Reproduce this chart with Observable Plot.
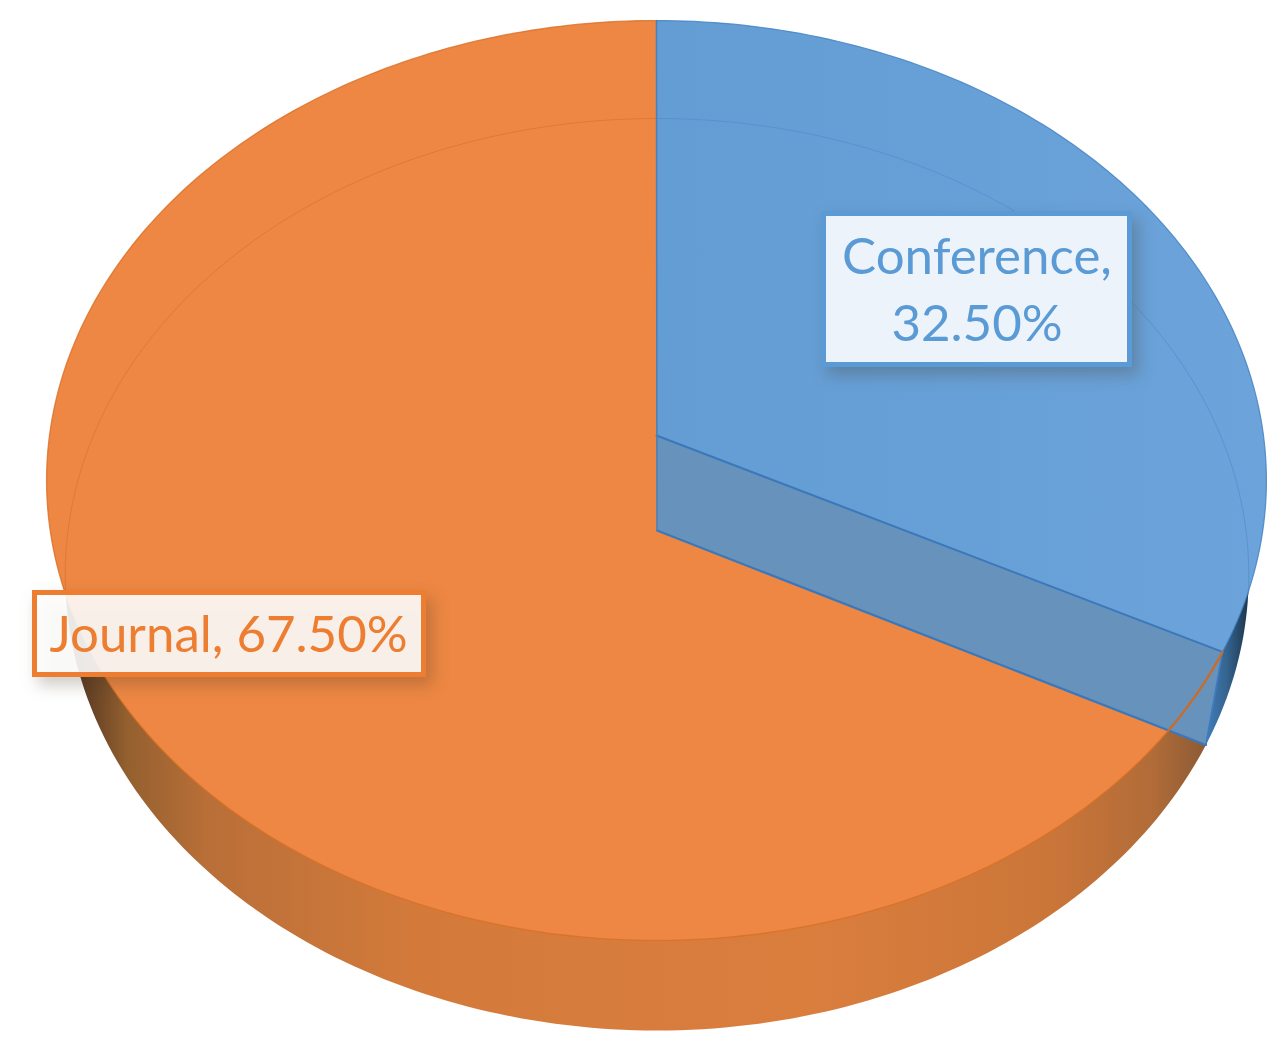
<!DOCTYPE html>
<html>
<head>
<meta charset="utf-8">
<script src="https://cdn.jsdelivr.net/npm/d3@7"></script>
<script src="https://cdn.jsdelivr.net/npm/@observablehq/plot@0.6"></script>
<style>
  html, body { margin: 0; padding: 0; background: #fff; }
  svg { display: block; }
</style>
</head>
<body>
<div id="chart"></div>
<script>
// ---- data ----
const categories = ["Conference", "Journal"];
const shares = [32.5, 67.5];
const labelBreaks = [",\n", ", "];

// ---- layout of the tilted pie (perspective of the top and bottom rims) ----
const topRim = {cx: 656, y0: 435, c: 413, k: 0.0978, r: 607};
const bottomRim = {cx: 656.5, y0: 530, c: 400.6, k: 0.0965, r: 589};
const rad = d => d * Math.PI / 180;
const project = (rim, deg) => {
  const u = Math.sin(rad(deg)), v = Math.cos(rad(deg)), w = 1 + rim.k * v;
  return {x: rim.cx + rim.r * u / w, y: (rim.y0 - rim.c * v) / w};
};
const arc = (rim, from, to) => d3.range(from, to, 1).concat(to).map(d => project(rim, d));
const apex = rim => ({x: rim.cx, y: rim.y0});

const split = shares[0] / 100 * 360;      // boundary between both slices
const topEnd = project(topRim, split);
const bottomEnd = project(bottomRim, split);
const bottomApex = apex(bottomRim);
const topApex = apex(topRim);

// where the front rim of the top face meets the lower edge of the cut wall
const wallSlope = (bottomEnd.y - bottomApex.y) / (bottomEnd.x - bottomApex.x);
const crossing = d3.range(split, split + 30, 0.1).find(d => {
  const p = project(topRim, d);
  return p.y >= bottomApex.y + wallSlope * (p.x - bottomApex.x);
});

const gradient = (id, x1, x2, stops) => () => {
  const ns = "http://www.w3.org/2000/svg";
  const defs = document.createElementNS(ns, "defs");
  const g = document.createElementNS(ns, "linearGradient");
  g.setAttribute("id", id);
  g.setAttribute("gradientUnits", "userSpaceOnUse");
  g.setAttribute("x1", x1); g.setAttribute("x2", x2);
  g.setAttribute("y1", 0); g.setAttribute("y2", 0);
  stops.forEach(([o, c]) => {
    const s = document.createElementNS(ns, "stop");
    s.setAttribute("offset", o); s.setAttribute("stop-color", c);
    g.appendChild(s);
  });
  defs.appendChild(g);
  return defs;
};

const XY = {x: "x", y: "y"};
const face = (pts, fill) => Plot.line(pts, {...XY, fill, stroke: "none", curve: "linear"});
const edge = (pts, stroke, strokeWidth, strokeOpacity = 1) =>
  Plot.line(pts, {...XY, stroke, strokeWidth, strokeOpacity, curve: "linear"});

const labelFont = "Lato, 'Open Sans', sans-serif";
const box = (x1, x2, y1, y2, stroke, fill, fillOpacity) =>
  Plot.rect([{x1, x2, y1, y2}], {
    x1: "x1", x2: "x2", y1: "y1", y2: "y2", fill, fillOpacity, stroke, strokeWidth: 5,
    imageFilter: "drop-shadow(6px 8px 8px rgba(70,50,30,0.28))"
  });
const label = (i, x, y, fill, fontSize) =>
  Plot.text([`${categories[i]}${labelBreaks[i]}${shares[i].toFixed(2)}%`], {
    x: () => x, y: () => y, text: d => d, fill, fontSize, fontWeight: 400,
    fontFamily: labelFont, textAnchor: "middle", lineAnchor: "middle", lineHeight: 1.31
  });

const chart = Plot.plot({
  width: 1285,
  height: 1055,
  margin: 0,
  x: {domain: [0, 1285], range: [0, 1285], axis: null},
  y: {domain: [0, 1055], range: [0, 1055], axis: null},
  style: {background: "#fff"},
  marks: [
    gradient("sideOrange", 70, 1208, [
      [0, "#4d3220"], [0.05, "#94602f"], [0.12, "#b96f38"], [0.3, "#d37a3b"],
      [0.65, "#da7e3e"], [0.86, "#cb7639"], [0.95, "#b26c38"], [1, "#8a5a35"]
    ]),
    gradient("sideBlue", 1206, 1256, [
      [0, "#3f7dbb"], [0.4, "#35648f"], [0.75, "#223f5c"], [1, "#16293c"]
    ]),
    gradient("topBlue", 656, 1260, [[0, "#639dd4"], [1, "#6ba3da"]]),

    // side walls, seen below the top face
    face(arc(bottomRim, split, 360).concat([bottomApex]), "url(#sideOrange)"),
    face(arc(bottomRim, 0, split).concat([bottomApex]), "url(#sideBlue)"),

    // top face of both slices
    face([topApex, ...arc(topRim, split, 360)], "#ed8743"),
    face([topApex, ...arc(topRim, 0, split)], "url(#topBlue)"),

    // the faint back of the bottom rim, seen through the top face
    edge(arc(bottomRim, 262, 360), "#d8702a", 1, 0.6),
    edge(arc(bottomRim, 0, 98), "#4d8ac6", 1, 0.6),

    // the cut wall of the blue slice
    face([topApex, topEnd, bottomEnd, bottomApex], "#6692bc"),
    edge([topApex, topEnd], "#3a78bb", 2),
    edge([bottomApex, bottomEnd], "#3a78bb", 2.2),
    edge([topEnd, bottomEnd], "#3f7cbf", 1.6),
    edge([project(topRim, 0), bottomApex], "#4f80b5", 1.6),

    // rims
    edge(arc(topRim, split, 360), "#d96f24", 1.3, 0.8),
    edge(arc(topRim, 0, split), "#3f80c2", 1.2, 0.8),
    edge(arc(topRim, split, crossing), "#cf6a22", 2.2),

    // data labels
    box(823.5, 1129.5, 213.5, 364.5, "#5b9bd5", "#edf3fb", 1),
    label(0, 976.5, 286, "#5b9bd5", 51),
    box(34.5, 423.5, 592.5, 674.5, "#ed7d31", "#fff", 0.89),
    label(1, 228, 630, "#ed7d31", 51)
  ]
});
document.getElementById("chart").appendChild(chart);
</script>
</body>
</html>
